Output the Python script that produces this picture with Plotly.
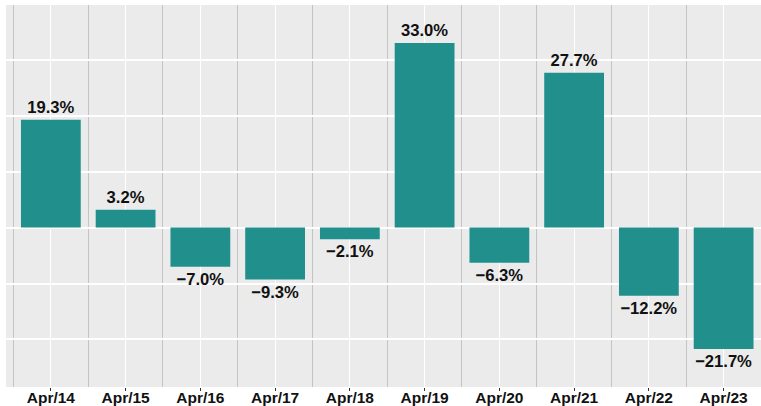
import plotly.graph_objects as go

categories = ["Apr/14", "Apr/15", "Apr/16", "Apr/17", "Apr/18",
              "Apr/19", "Apr/20", "Apr/21", "Apr/22", "Apr/23"]
values = [19.3, 3.2, -7.0, -9.3, -2.1, 33.0, -6.3, 27.7, -12.2, -21.7]

labels = [f"{v:.1f}%".replace("-", "\u2212") for v in values]
xs = list(range(len(categories)))

fig = go.Figure()
fig.add_trace(go.Bar(
    x=xs, y=values, width=0.8,
    marker=dict(color="#21908C", line=dict(width=0)),
    text=labels, textposition="outside", cliponaxis=False,
    texttemplate="<b>%{text}</b>",
    textfont=dict(family="Liberation Sans, Arial, sans-serif", size=16.6, color="#111111"),
    textangle=0, hoverinfo="skip",
))

fig.update_layout(
    width=761, height=406,
    margin=dict(l=6, r=0, t=5, b=19, autoexpand=False),
    paper_bgcolor="white", plot_bgcolor="#EBEBEB",
    showlegend=False,
    uniformtext=dict(mode=False),
    font=dict(family="Liberation Sans, Arial, sans-serif"),
)
fig.update_xaxes(
    range=[-0.6, 9.5], tickvals=xs, ticktext=[f"<b>{c}</b>" for c in categories],
    tickfont=dict(size=15.5, color="#111111"),
    automargin=False, ticklabelstandoff=-7,
    showgrid=True, gridcolor="white", gridwidth=1.2,
    ticks="outside", ticklen=3, tickcolor="#333333", tickwidth=1,
    minor=dict(tick0=0.5, dtick=1, showgrid=True, gridcolor="#C4C4C4", gridwidth=1.2, ticks=""),
    zeroline=False, showline=False,
)
fig.update_yaxes(
    range=[-28.5, 39.8], tick0=0, dtick=10, showticklabels=False, ticks="",
    automargin=False,
    showgrid=True, gridcolor="white", gridwidth=1.5, zeroline=False, showline=False,
)

fig.write_html(
    "out.html",
    config={"displayModeBar": False},
    post_script="document.body.style.margin='0';document.body.style.overflow='hidden';",
)
